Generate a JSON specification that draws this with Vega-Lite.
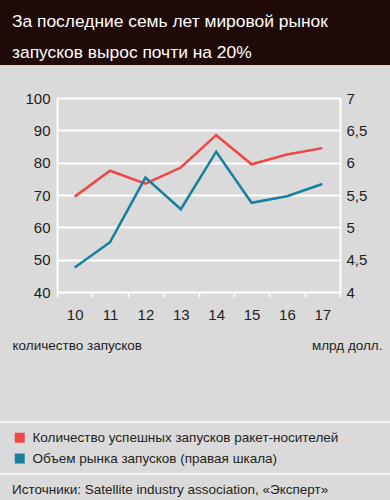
{
  "$schema": "https://vega.github.io/schema/vega-lite/v6.json",
  "background": "#dadada",
  "padding": 0,
  "spacing": 0,
  "datasets": {
    "series": [
      {"year": "10", "launches": 69.5, "market": 4.38},
      {"year": "11", "launches": 77.5, "market": 4.77},
      {"year": "12", "launches": 73.5, "market": 5.77},
      {"year": "13", "launches": 78.5, "market": 5.28},
      {"year": "14", "launches": 88.5, "market": 6.17},
      {"year": "15", "launches": 79.5, "market": 5.38},
      {"year": "16", "launches": 82.5, "market": 5.48},
      {"year": "17", "launches": 84.5, "market": 5.67}
    ]
  },
  "config": {
    "view": {"stroke": null},
    "font": "Liberation Sans"
  },
  "vconcat": [
    {
      "width": 390, "height": 65,
      "data": {"values": [{}]},
      "mark": {"type": "rect", "color": "#200a07"},
      "title": {
        "text": ["За последние семь лет мировой рынок", "запусков вырос почти на 20%"],
        "anchor": "start", "frame": "group", "orient": "top",
        "dx": 12, "offset": -61.5, "baseline": "top",
        "fontSize": 17.4, "lineHeight": 31, "color": "#ffffff", "fontWeight": "normal"
      }
    },
    {
      "width": 390, "height": 25.5,
      "data": {"values": [{}]},
      "mark": {"type": "rect", "opacity": 0}
    },
    {
      "spacing": 0,
      "hconcat": [
        {
          "width": 1, "height": 194,
          "data": {"values": [{}]},
          "mark": {"type": "rect", "opacity": 0}
        },
        {
          "width": 283, "height": 194,
          "data": {"name": "series"},
          "encoding": {
            "x": {
              "field": "year", "type": "ordinal", "sort": null,
              "scale": {"type": "band", "paddingInner": 0, "paddingOuter": 0},
              "axis": {
                "labelAngle": 0, "domain": false,
                "ticks": true, "tickBand": "extent", "tickSize": 5, "tickColor": "#ffffff", "tickWidth": 1.5,
                "labelFontSize": 15, "labelColor": "#231f20", "labelPadding": 10, "grid": false,
                "title": ".", "titleX": -56, "titleY": -100, "titleAlign": "left", "titleAngle": 0,
                "titleColor": "#dadada", "titleFontSize": 10, "titleFontWeight": "normal"
              }
            }
          },
          "layer": [
            {
              "mark": {"type": "line", "strokeWidth": 2.5},
              "encoding": {
                "y": {
                  "field": "launches", "type": "quantitative",
                  "scale": {"domain": [40, 100], "zero": false, "nice": false},
                  "axis": {
                    "orient": "left", "values": [40, 50, 60, 70, 80, 90, 100],
                    "grid": true, "gridColor": "#ffffff", "gridWidth": 2, "gridOpacity": 1,
                    "domain": true, "domainColor": "#ffffff", "domainWidth": 2,
                    "ticks": false, "labelFontSize": 15, "labelColor": "#231f20", "labelPadding": 7,
                    "title": "количество запусков", "titleAngle": 0, "titleAlign": "left",
                    "titleBaseline": "middle", "titleX": -45, "titleY": 247,
                    "titleFontSize": 13.5, "titleFontWeight": "normal", "titleColor": "#231f20"
                  }
                },
                "color": {
                  "datum": "Количество успешных запусков ракет-носителей",
                  "scale": {
                    "domain": ["Количество успешных запусков ракет-носителей", "Объем рынка запусков (правая шкала)"],
                    "range": ["#ef4646", "#16809f"]
                  },
                  "legend": {
                    "orient": "none", "legendX": 13, "legendY": 431, "padding": 0,
                    "title": null, "symbolType": "square", "symbolSize": 100,
                    "symbolStrokeWidth": 0, "labelFontSize": 13.5, "labelColor": "#231f20",
                    "labelLimit": 400, "rowPadding": 5.8, "labelOffset": 6,
                    "encode": {"symbols": {"update": {"fill": {"scale": "color", "field": "value"}, "fillOpacity": {"value": 1}}}}
                  }
                }
              }
            },
            {
              "mark": {"type": "line", "strokeWidth": 2.5},
              "encoding": {
                "y": {
                  "field": "market", "type": "quantitative",
                  "scale": {"domain": [4, 7], "zero": false, "nice": false},
                  "axis": {
                    "orient": "right", "values": [4, 4.5, 5, 5.5, 6, 6.5, 7],
                    "labelExpr": "replace(format(datum.value, '.1~f'), '.', ',')",
                    "grid": false, "domain": true, "domainColor": "#ffffff", "domainWidth": 2,
                    "ticks": false, "labelFontSize": 15, "labelColor": "#231f20", "labelPadding": 6,
                    "title": "млрд долл.", "titleAngle": 0, "titleAlign": "right",
                    "titleBaseline": "middle", "titleX": 42, "titleY": 247,
                    "titleFontSize": 13.5, "titleFontWeight": "normal", "titleColor": "#231f20"
                  }
                },
                "color": {"datum": "Объем рынка запусков (правая шкала)"}
              }
            }
          ],
          "resolve": {"scale": {"y": "independent"}}
        }
      ]
    },
    {
      "width": 390, "height": 69,
      "data": {"values": [{}]},
      "mark": {"type": "rect", "opacity": 0}
    },
    {
      "width": 390, "height": 2,
      "data": {"values": [{}]},
      "mark": {"type": "rect", "color": "#f5f5f5"}
    },
    {
      "width": 390, "height": 49.3,
      "data": {"values": [{}]},
      "mark": {"type": "rect", "opacity": 0}
    },
    {
      "width": 390, "height": 2,
      "data": {"values": [{}]},
      "mark": {"type": "rect", "color": "#f5f5f5"}
    },
    {
      "width": 390, "height": 26,
      "data": {"values": [{}]},
      "mark": {"type": "rect", "opacity": 0},
      "title": {
        "text": "Источники: Satellite industry association, «Эксперт»",
        "anchor": "start", "frame": "group", "orient": "top",
        "dx": 12, "offset": -21.5, "baseline": "top",
        "fontSize": 13.5, "color": "#231f20", "fontWeight": "normal"
      }
    }
  ]
}
